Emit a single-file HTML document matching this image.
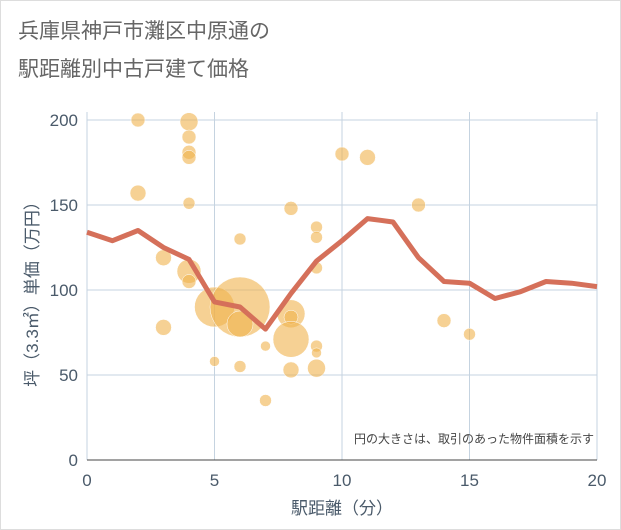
<!DOCTYPE html>
<html><head><meta charset="utf-8"><style>
body{margin:0;background:#fff;}
svg{display:block;font-family:"Liberation Sans","Noto Sans CJK JP",sans-serif;}
</style></head><body>
<svg id="c" width="621" height="530">
<rect x="0.5" y="0.5" width="620" height="529" fill="#fff" stroke="#ddd"/>
<text x="18" y="38" font-size="21" fill="#666">兵庫県神戸市灘区中原通の</text>
<text x="18" y="76" font-size="21" fill="#666">駅距離別中古戸建て価格</text>
<g id="grid"></g><g id="bub"></g><g id="ln"></g><g id="ax"></g>
<text x="594" y="443" font-size="12" fill="#444" text-anchor="end">円の大きさは、取引のあった物件面積を示す</text>
<text x="342" y="514" font-size="17" fill="#4a5a6a" text-anchor="middle">駅距離（分）</text>
<text transform="translate(38,290) rotate(-90)" font-size="17" fill="#4a5a6a" text-anchor="middle">坪（3.3㎡）単価（万円）</text>
</svg>
<script>
const xTicks=[0,5,10,15,20];
const yTicks=[0,50,100,150,200];
const bubX=[2,2,3,3,4,4,4,4,4,4,4,5,5,6,6,6,6,7,7,8,8,8,8,8,9,9,9,9,9,9,10,11,13,14,15];
const bubY=[200,157,119,78,199,190,181,178,151,111,105,90,58,130,90,80,55,67,35,148,86,84,71,53,137,131,113,67,63,54,180,178,150,82,74];
const bubS=[49,64,64,64,81,49,49,49,36,144,49,400,25,36,900,169,36,25,36,49,196,49,324,64,36,36,36,36,25,81,49,64,49,49,36];
const lineX=[0,1,2,3,4,5,6,7,8,9,10,11,12,13,14,15,16,17,18,19,20];
const lineY=[134,129,135,125,118,93,90,77,98,117,129,142,140,119,105,104,95,99,105,104,102];
const X=v=>87+v*25.5, Y=v=>460-v*1.7;
const NS="http://www.w3.org/2000/svg";
function mk(t,a,p){const e=document.createElementNS(NS,t);for(const k in a)e.setAttribute(k,a[k]);p.appendChild(e);return e;}
const g=document.getElementById('grid'),ax=document.getElementById('ax');
xTicks.forEach(t=>{const l=mk('line',{x1:X(t),x2:X(t),y1:112,y2:460,stroke:'#c5d3e0'},g);


const tx=mk('text',{x:X(t),y:486,'font-size':17,fill:'#4a5a6a','text-anchor':'middle'},ax);tx.textContent=t;

});
yTicks.forEach(t=>{const l=mk('line',{x1:87,x2:597,y1:Y(t),y2:Y(t),stroke:t===0?'#444':'#c5d3e0'},g);


const tx=mk('text',{x:78,y:Y(t)+6,'font-size':17,fill:'#4a5a6a','text-anchor':'end'},ax);tx.textContent=t;

});
const b=document.getElementById('bub');
bubX.forEach((v,i)=>{const c=mk('circle',{cx:X(v),cy:Y(bubY[i]),r:Math.sqrt(bubS[i]),fill:'#f0b24d','fill-opacity':0.6,stroke:'#fff','stroke-width':0.5},b);

});
const p=mk('polyline',{points:lineX.map((v,i)=>X(v)+','+Y(lineY[i])).join(' '),fill:'none',stroke:'#d5705a','stroke-width':5,'stroke-linejoin':'round'},document.getElementById('ln'));


</script>
</body></html>
